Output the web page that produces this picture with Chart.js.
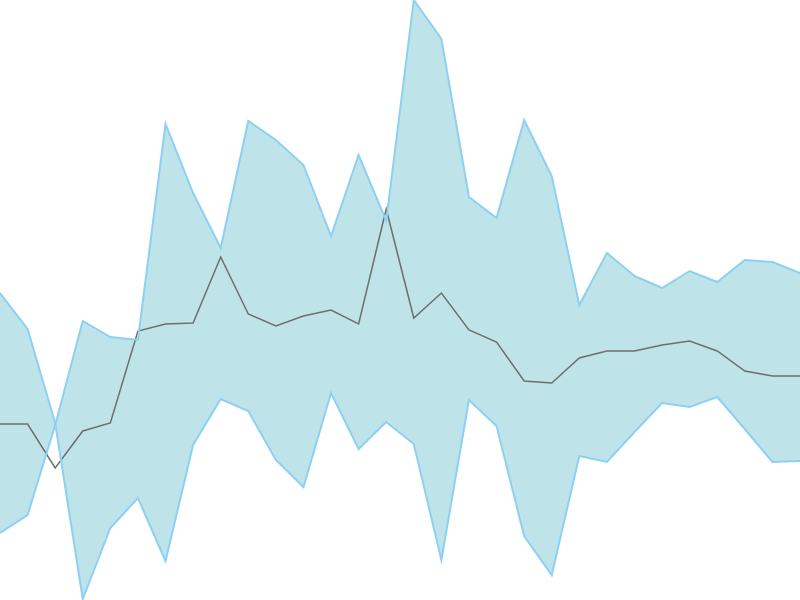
<!DOCTYPE html>
<html>
<head>
<meta charset="utf-8">
<script src="https://cdn.jsdelivr.net/npm/chart.js@4/dist/chart.umd.min.js"></script>
<style>
  html, body { margin: 0; padding: 0; background: #fff; }
  #wrap { width: 800px; height: 600px; }
</style>
</head>
<body>
<div id="wrap"><canvas id="bandChart"></canvas></div>
<script>
// 30 points, no axes shown
const labels = Array.from({ length: 30 }, (_, i) => i + 1);

// the two band edges cross between the 3rd and 4th point
const seriesA = [307, 271, 177, 1, 72, 102, 39, 155, 201, 189, 140, 113, 207, 151, 178,
                 156, 40, 200, 174, 64, 25, 144, 138, 168, 197, 193, 203, 171, 138, 139];
const seriesB = [67, 85, 175, 279, 263, 260, 476, 407, 352, 479, 460, 435, 364, 445, 379,
                 600, 561, 403, 382, 480, 424, 295, 347, 324, 312, 329, 318, 340, 338, 327];
const middle = [176, 176, 132, 169, 177, 269, 276, 277, 343, 286, 274, 284, 290, 276, 391,
                282, 307, 270, 258, 219, 217, 242, 249, 249, 255, 259, 249, 229, 224, 224];

document.addEventListener('DOMContentLoaded', function() {
    const ctx = document.getElementById('bandChart');
    new Chart(ctx, {
        type: 'line',
        data: {
            labels: labels,
            datasets: [{
                data: seriesA,
                borderColor: 'rgb(141, 208, 242)',
                backgroundColor: 'rgb(190, 228, 233)',
                borderWidth: 2,
                pointRadius: 0,
                tension: 0,
                fill: '+1'
            }, {
                data: seriesB,
                borderColor: 'rgb(141, 208, 242)',
                borderWidth: 2,
                pointRadius: 0,
                tension: 0,
                fill: false
            }, {
                data: middle,
                borderColor: 'rgb(110, 110, 110)',
                borderWidth: 1.5,
                pointRadius: 0,
                tension: 0,
                fill: false
            }]
        },
        options: {
            responsive: true,
            maintainAspectRatio: false,
            animation: false,
            layout: { padding: 0 },
            plugins: {
                legend: { display: false },
                tooltip: { enabled: false },
                filler: { drawTime: 'beforeDatasetsDraw' }
            },
            scales: {
                x: { display: false, offset: false },
                y: { display: false, min: 0, max: 600 }
            }
        }
    });
});
</script>
</body>
</html>
